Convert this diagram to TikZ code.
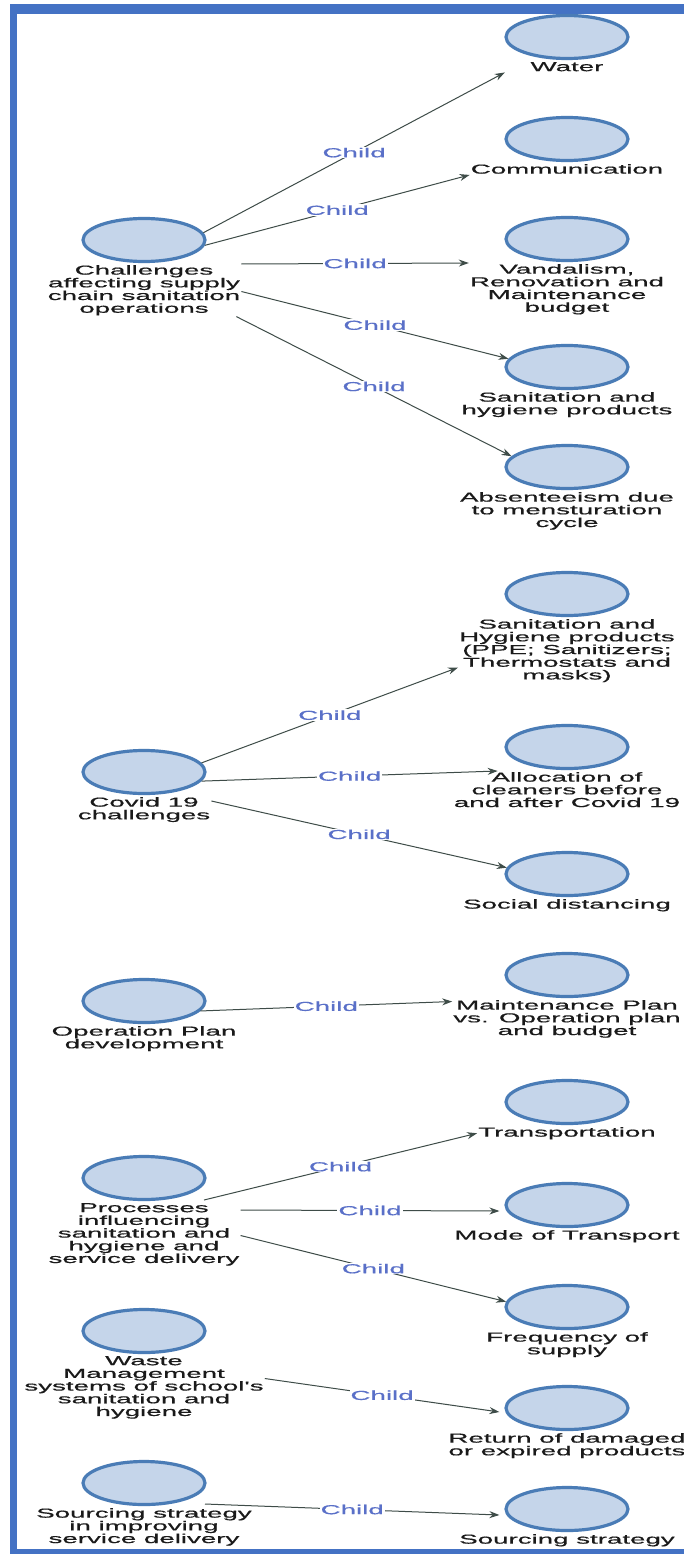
\documentclass[tikz,border=0pt]{standalone}
\usepackage{fontspec}
\setmainfont{Liberation Sans}
\newfontfamily\stretchfont[FakeStretch=2.13,FakeBold=0.6]{Liberation Sans}
\usetikzlibrary{arrows.meta,shapes.geometric}
\definecolor{framebl}{HTML}{4472C4}
\definecolor{circfill}{HTML}{C5D5EA}
\definecolor{circdraw}{HTML}{4A7CB6}
\definecolor{edgecol}{HTML}{3E4C48}
\definecolor{childcol}{HTML}{5A70C8}
\definecolor{txtcol}{HTML}{1A1A1A}
\newcommand{\labfont}{\stretchfont\fontsize{13}{12.7}\selectfont}
\begin{document}
\begin{tikzpicture}[x=1pt,y=-1pt,
  circ/.style={ellipse, draw=circdraw, fill=circfill, line width=3.2pt, minimum width=122pt, minimum height=43pt, inner sep=0pt},
  lbl/.style={anchor=north, align=center, font=\labfont, text=txtcol, inner sep=1pt, minimum width=124pt},
  edge/.style={draw=edgecol, line width=1pt, -{Stealth[length=10pt,width=7pt]}},
  child/.style={font=\labfont, text=childcol, fill=white, inner sep=1pt, pos=0.5}
]
\useasboundingbox (0,0) rectangle (684,1554);
% frame
\fill[framebl] (10,4) rectangle (684,1554);
\fill[white] (17,14) rectangle (684,1549);

% right column
\node[circ] (R1) at (567,37) {};
\node[lbl] (tR1) at ([yshift=-24pt]R1.center) {Water};
\node[circ] (R2) at (567,139) {};
\node[lbl] (tR2) at ([yshift=-24pt]R2.center) {Communication};
\node[circ] (R3) at (567,239) {};
\node[lbl] (tR3) at ([yshift=-24pt]R3.center) {Vandalism,\\Renovation and\\Maintenance\\budget};
\node[circ] (R4) at (567,367) {};
\node[lbl] (tR4) at ([yshift=-24pt]R4.center) {Sanitation and\\hygiene products};
\node[circ] (R5) at (567,467) {};
\node[lbl] (tR5) at ([yshift=-24pt]R5.center) {Absenteeism due\\to mensturation\\cycle};
\node[circ] (R6) at (567,594) {};
\node[lbl] (tR6) at ([yshift=-24pt]R6.center) {Sanitation and\\Hygiene products\\(PPE; Sanitizers;\\Thermostats and\\masks)};
\node[circ] (R7) at (567,747) {};
\node[lbl] (tR7) at ([yshift=-24pt]R7.center) {Allocation of\\cleaners before\\and after Covid 19};
\node[circ] (R8) at (567,874) {};
\node[lbl] (tR8) at ([yshift=-24pt]R8.center) {Social distancing};
\node[circ] (R9) at (567,975) {};
\node[lbl] (tR9) at ([yshift=-24pt]R9.center) {Maintenance Plan\\vs. Operation plan\\and budget};
\node[circ] (R10) at (567,1102) {};
\node[lbl] (tR10) at ([yshift=-24pt]R10.center) {Transportation};
\node[circ] (R11) at (567,1205) {};
\node[lbl] (tR11) at ([yshift=-24pt]R11.center) {Mode of Transport};
\node[circ] (R12) at (567,1307) {};
\node[lbl] (tR12) at ([yshift=-24pt]R12.center) {Frequency of\\supply};
\node[circ] (R13) at (567,1408) {};
\node[lbl] (tR13) at ([yshift=-24pt]R13.center) {Return of damaged\\or expired products};
\node[circ] (R14) at (567,1509) {};
\node[lbl] (tR14) at ([yshift=-24pt]R14.center) {Sourcing strategy};

% left column
\node[circ] (L1) at (144,240) {};
\node[lbl] (tL1) at ([yshift=-24pt]L1.center) {Challenges\\affecting supply\\chain sanitation\\operations};
\node[circ] (L2) at (144,772) {};
\node[lbl] (tL2) at ([yshift=-24pt]L2.center) {Covid 19\\challenges};
\node[circ] (L3) at (144,1001) {};
\node[lbl] (tL3) at ([yshift=-24pt]L3.center) {Operation Plan\\development};
\node[circ] (L4) at (144,1178) {};
\node[lbl] (tL4) at ([yshift=-24pt]L4.center) {Processes\\influencing\\sanitation and\\hygiene and\\service delivery};
\node[circ] (L5) at (144,1331) {};
\node[lbl] (tL5) at ([yshift=-24pt]L5.center) {Waste\\Management\\systems of school's\\sanitation and\\hygiene};
\node[circ] (L6) at (144,1483) {};
\node[lbl] (tL6) at ([yshift=-24pt]L6.center) {Sourcing strategy\\in improving\\service delivery};

% edges
\draw[edge] (L1.7) -- node[child]{Child} (tR1.south west);
\draw[edge] (L1.-5) -- node[child]{Child} (tR2.south west);
\draw[edge] (tL1.north east) -- node[child]{Child} (tR3.north west);
\draw[edge] ([yshift=-27.5pt]tL1.north east) -- node[child]{Child} (R4.172);
\draw[edge] ([xshift=-5pt]tL1.south east) -- node[child]{Child} (R5.169);
\draw[edge] (L2.9) -- node[child]{Child} ([yshift=-49.5pt]tR6.north west);
\draw[edge] (L2.-9) -- node[child]{Child} ([xshift=45pt]tR7.north west);
\draw[edge] ([yshift=-5pt]tL2.north east) -- node[child]{Child} (R8.174);
\draw[edge] (L3.-10) -- node[child]{Child} ([yshift=-2.5pt]tR9.north west);
\draw[edge] ([xshift=60pt,yshift=2pt]tL4.north) -- node[child]{Child} (tR10.west);
\draw[edge] ([yshift=-8pt]tL4.north east) -- node[child]{Child} ([xshift=-5pt,yshift=-6pt]R11.west);
\draw[edge] ([yshift=-33.5pt]tL4.north east) -- node[child]{Child} (R12.175);
\draw[edge] ([yshift=-23.5pt]tL5.north east) -- node[child]{Child} ([xshift=-5pt,yshift=-4pt]R13.west);
\draw[edge] ([xshift=61pt,yshift=3pt]tL6.north) -- node[child]{Child} ([xshift=-5pt,yshift=-6pt]R14.west);
\end{tikzpicture}
\end{document}
